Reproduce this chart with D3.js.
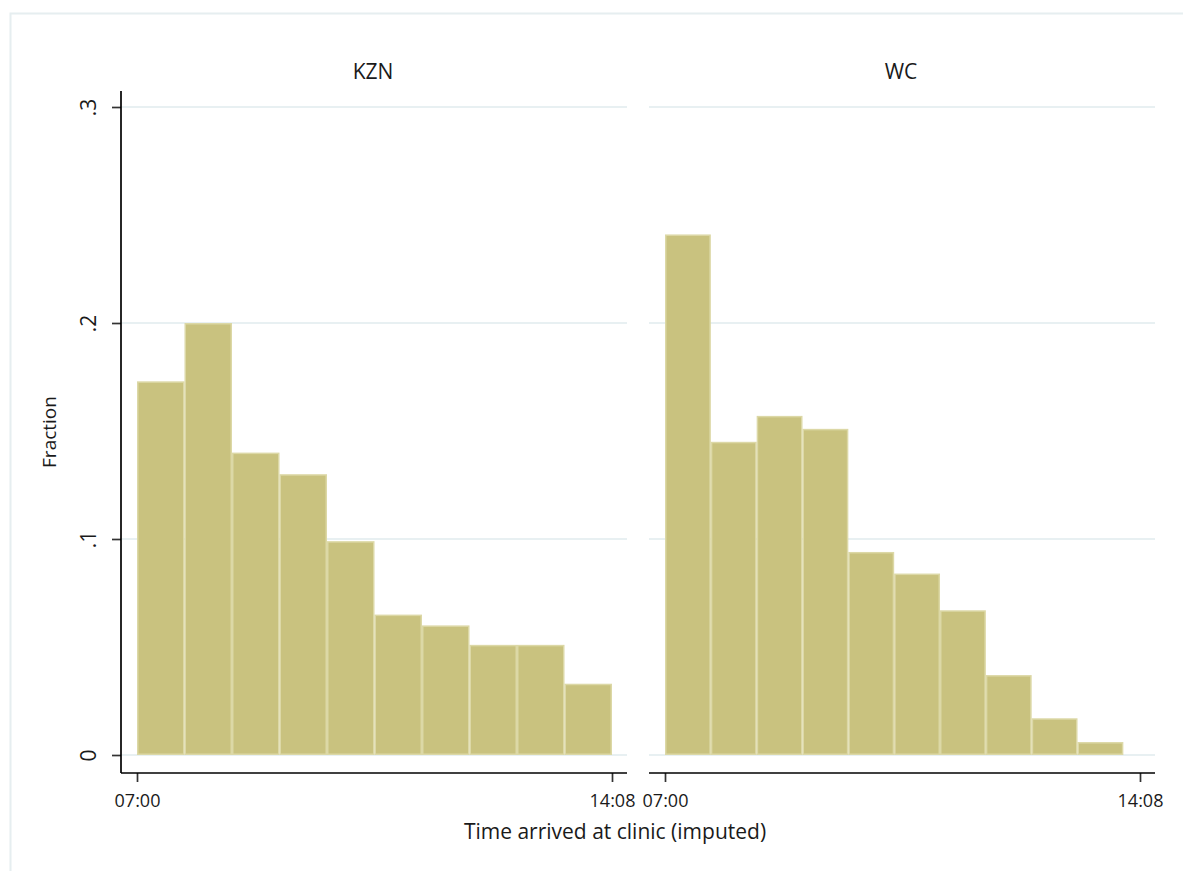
<!DOCTYPE html>
<html><head><meta charset="utf-8">
<script src="https://cdn.jsdelivr.net/npm/d3@7"></script>
<style>body{margin:0;background:#fff}svg{display:block}</style>
</head><body>
<script>
// Data: minutes after 07:00, bin start edges and fractions
const panels = ["KZN", "WC"];
const kznBinStart = [0, 42.8, 85.6, 128.4, 171.2, 214, 256.8, 299.6, 342.4, 385.2];
const kznBinWidth = 42.8;
const kznFraction = [0.173, 0.200, 0.140, 0.130, 0.099, 0.065, 0.060, 0.051, 0.051, 0.033];
const wcBinStart = [0, 41.3, 82.6, 123.9, 165.2, 206.5, 247.8, 289.1, 330.4, 371.7];
const wcBinWidth = 41.3;
const wcFraction = [0.241, 0.145, 0.157, 0.151, 0.094, 0.084, 0.067, 0.037, 0.017, 0.006];
const xTickValues = [0, 428];
const xTickLabels = ["07:00", "14:08"];
const yTickValues = [0, 0.1, 0.2, 0.3];
const yTickLabels = ["0", ".1", ".2", ".3"];
const xTitle = "Time arrived at clinic (imputed)";
const yTitle = "Fraction";

const FONT = '"Open Sans",sans-serif';
const W = 1183, H = 871;
const svg = d3.select("body").append("svg").attr("width", W).attr("height", H);

// outer frame
svg.append("rect").attr("x", 10.5).attr("y", 13.5).attr("width", W).attr("height", H)
  .attr("fill", "none").attr("stroke", "#e6eef0").attr("stroke-width", 2);

const y = d3.scaleLinear().domain([0, 0.3]).range([755, 107]);

const panelDefs = [
  {name: panels[0], starts: kznBinStart, w: kznBinWidth, vals: kznFraction, left: 121, right: 627, x0: 137, x1: 612, yaxis: true},
  {name: panels[1], starts: wcBinStart, w: wcBinWidth, vals: wcFraction, left: 649, right: 1155, x0: 665, x1: 1140, yaxis: false}
];

panelDefs.forEach(p => {
  const g = svg.append("g");
  const x = d3.scaleLinear().domain([0, 428]).range([p.x0, p.x1]);
  // gridlines
  g.selectAll("line.grid").data(yTickValues).enter().append("line")
    .attr("x1", p.left).attr("x2", p.right)
    .attr("y1", d => y(d)).attr("y2", d => y(d))
    .attr("stroke", "#e8f0f2").attr("stroke-width", 2);
  // bars
  g.selectAll("rect.bar").data(p.vals).enter().append("rect")
    .attr("x", (d, i) => x(p.starts[i]) + 0.75)
    .attr("width", (d, i) => x(p.starts[i] + p.w) - x(p.starts[i]) - 1.5)
    .attr("y", d => y(d) + 0.75)
    .attr("height", d => y(0) - y(d) - 1.5)
    .attr("fill", "#c9c27f").attr("stroke", "#dcd8a6").attr("stroke-width", 1.5);
  // x axis
  const xa = g.append("g").attr("transform", "translate(0,773)")
    .call(d3.axisBottom(x).tickValues(xTickValues).tickFormat((d, i) => xTickLabels[i]).tickSize(9).tickSizeOuter(0));
  xa.select(".domain").remove();
  xa.append("line").attr("x1", p.left).attr("x2", p.right).attr("y1", 0).attr("y2", 0).attr("stroke", "#000").attr("stroke-width", 1.7);
  xa.selectAll(".tick line").attr("stroke", "#333").attr("stroke-width", 1.7);
  xa.selectAll(".tick text").attr("y", 21).attr("font-size", 18).attr("fill", "#1a1a1a").attr("font-family", FONT);
  // title
  g.append("text").attr("x", (p.left + p.right) / 2 - 1).attr("y", 79).attr("text-anchor", "middle")
    .attr("font-size", 21).attr("font-family", FONT).attr("fill", "#1a1a1a").text(p.name);
  if (p.yaxis) {
    const ya = g.append("g").attr("transform", `translate(${p.left},0)`)
      .call(d3.axisLeft(y).tickValues(yTickValues).tickFormat((d, i) => yTickLabels[i]).tickSize(9).tickSizeOuter(0));
    ya.select(".domain").remove();
    ya.append("line").attr("x1", 0).attr("x2", 0).attr("y1", 91).attr("y2", 773).attr("stroke", "#000").attr("stroke-width", 1.7);
    ya.selectAll(".tick line").attr("stroke", "#333").attr("stroke-width", 1.7);
    ya.selectAll(".tick text").attr("x", 0)
      .attr("transform", "translate(-32,0) rotate(-90)")
      .attr("text-anchor", "middle").attr("dy", "0.35em")
      .attr("font-size", 21).attr("fill", "#1a1a1a").attr("font-family", FONT);
  }
});

svg.append("text").attr("x", 615).attr("y", 839).attr("text-anchor", "middle")
  .attr("font-size", 21).attr("font-family", FONT).attr("fill", "#1a1a1a").text(xTitle);
svg.append("text").attr("transform", "translate(56,432) rotate(-90)").attr("text-anchor", "middle")
  .attr("font-size", 19).attr("font-family", FONT).attr("fill", "#1a1a1a").text(yTitle);
</script>
</body></html>
